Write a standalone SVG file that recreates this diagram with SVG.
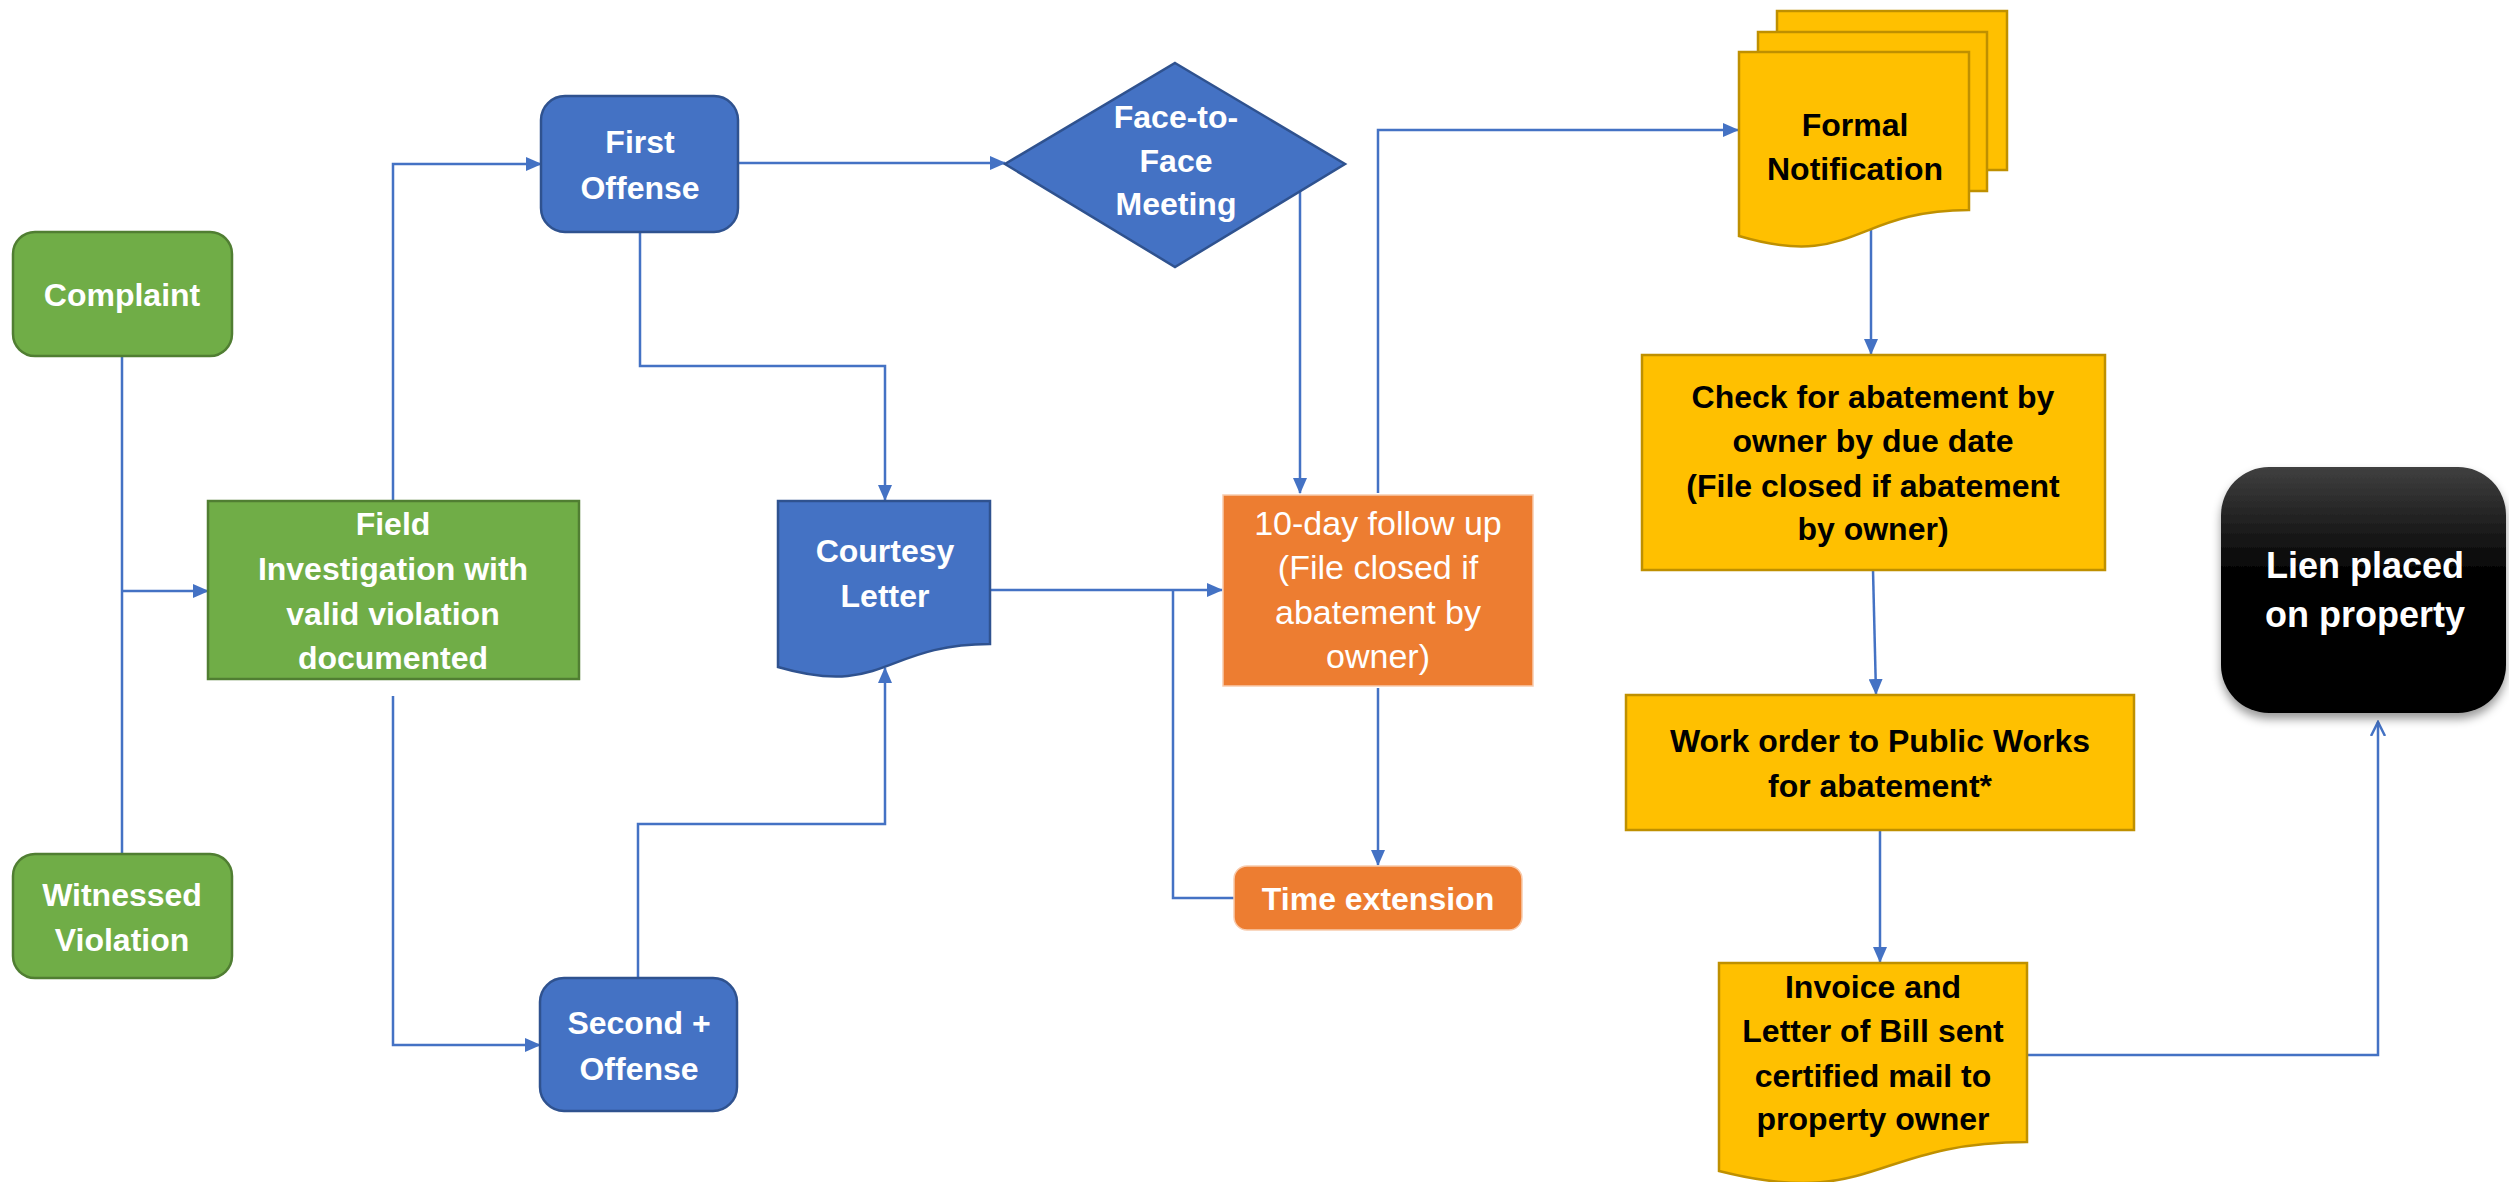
<svg xmlns="http://www.w3.org/2000/svg" width="2509" height="1182" viewBox="0 0 2509 1182">
<defs>
<style>
.t{font-family:"Liberation Sans",Arial,sans-serif;font-weight:bold;font-size:32px;text-anchor:middle;fill:#fff}
.tr{font-family:"Liberation Sans",Arial,sans-serif;font-weight:normal;font-size:34px;text-anchor:middle;fill:#fff}
.tk{fill:#000}
.green{fill:#70AD47;stroke:#507E32;stroke-width:2.5}
.blue{fill:#4472C4;stroke:#2F528F;stroke-width:2.5}
.orange{fill:#ED7D31;stroke:#F8CBAD;stroke-width:1.5}
.yellow{fill:#FFC000;stroke:#BF9000;stroke-width:2.5}
.c{fill:none;stroke:#4472C4;stroke-width:2.5}
</style>
<marker id="ah" markerUnits="userSpaceOnUse" markerWidth="16" markerHeight="14" refX="15" refY="7" orient="auto"><path d="M0,0 L16,7 L0,14 Z" fill="#4472C4"/></marker>
<marker id="oa" markerUnits="userSpaceOnUse" markerWidth="16" markerHeight="16" refX="14" refY="8" orient="auto"><path d="M0,1 L14,8 L0,15" fill="none" stroke="#4472C4" stroke-width="2.5"/></marker>
<linearGradient id="lg" x1="0" y1="0" x2="0" y2="1"><stop offset="0" stop-color="#404040"/><stop offset="0.45" stop-color="#000"/><stop offset="1" stop-color="#000"/></linearGradient>
<filter id="sh" x="-10%" y="-10%" width="120%" height="130%"><feDropShadow dx="0" dy="6" stdDeviation="5" flood-color="#000" flood-opacity="0.4"/></filter>
</defs>
<rect width="2509" height="1182" fill="#fff"/>
<g id="connectors">
<path class="c" d="M122,356 V854"/>
<path class="c" d="M122,591 H208" marker-end="url(#ah)"/>
<path class="c" d="M393,501 V164 H541" marker-end="url(#ah)"/>
<path class="c" d="M393,696 V1045 H540" marker-end="url(#ah)"/>
<path class="c" d="M739,163 H1005" marker-end="url(#ah)"/>
<path class="c" d="M640,232 V366 H885 V500" marker-end="url(#ah)"/>
<path class="c" d="M638,978 V824 H885 V668" marker-end="url(#ah)"/>
<path class="c" d="M990,590 H1222" marker-end="url(#ah)"/>
<path class="c" d="M1234,898 H1173 V590"/>
<path class="c" d="M1300,191 V493" marker-end="url(#ah)"/>
<path class="c" d="M1378,688 V865" marker-end="url(#ah)"/>
<path class="c" d="M1378,493 V130 H1738" marker-end="url(#ah)"/>
<path class="c" d="M1871,224 V354" marker-end="url(#ah)"/>
<path class="c" d="M1873,570 L1876,694" marker-end="url(#ah)"/>
<path class="c" d="M1880,830 V962" marker-end="url(#ah)"/>
<path class="c" d="M2027,1055 H2378 V722" marker-end="url(#oa)"/>
</g>
<g id="complaint">
<rect class="green" x="13" y="232" width="219" height="124" rx="22"/>
<text class="t" x="122" y="306">Complaint</text>
</g>
<g id="witnessed">
<rect class="green" x="13" y="854" width="219" height="124" rx="22"/>
<text class="t" x="122" y="906">Witnessed</text>
<text class="t" x="122" y="951">Violation</text>
</g>
<g id="field">
<rect class="green" x="208" y="501" width="371" height="178"/>
<text class="t" x="393" y="535">Field</text>
<text class="t" x="393" y="580">Investigation with</text>
<text class="t" x="393" y="625">valid violation</text>
<text class="t" x="393" y="669">documented</text>
</g>
<g id="first-offense">
<rect class="blue" x="541" y="96" width="197" height="136" rx="24"/>
<text class="t" x="640" y="153">First</text>
<text class="t" x="640" y="199">Offense</text>
</g>
<g id="second-offense">
<rect class="blue" x="540" y="978" width="197" height="133" rx="24"/>
<text class="t" x="639" y="1034">Second +</text>
<text class="t" x="639" y="1080">Offense</text>
</g>
<g id="face-meeting">
<path class="blue" d="M1175,63 L1345,164 L1175,267 L1005,164 Z"/>
<text class="t" x="1176" y="128">Face-to-</text>
<text class="t" x="1176" y="172">Face</text>
<text class="t" x="1176" y="215">Meeting</text>
</g>
<g id="courtesy-letter">
<path class="blue" d="M778,501 H990 V644 C884,644 884,698 778,667 Z"/>
<text class="t" x="885" y="562">Courtesy</text>
<text class="t" x="885" y="607">Letter</text>
</g>
<g id="ten-day">
<rect class="orange" x="1223" y="495" width="310" height="191"/>
<text class="tr" x="1378" y="535">10-day follow up</text>
<text class="tr" x="1378" y="579">(File closed if</text>
<text class="tr" x="1378" y="624">abatement by</text>
<text class="tr" x="1378" y="668">owner)</text>
</g>
<g id="time-extension">
<rect class="orange" x="1234" y="866" width="288" height="64" rx="13"/>
<text class="t" x="1378" y="910">Time extension</text>
</g>
<g id="formal-notification">
<rect class="yellow" x="1777" y="11" width="230" height="159"/>
<rect class="yellow" x="1758" y="32" width="229" height="159"/>
<path class="yellow" d="M1739,52 H1969 V210 C1854,210 1854,270 1739,236 Z"/>
<text class="t tk" x="1855" y="136">Formal</text>
<text class="t tk" x="1855" y="180">Notification</text>
</g>
<g id="check-abatement">
<rect class="yellow" x="1642" y="355" width="463" height="215"/>
<text class="t tk" x="1873" y="408">Check for abatement by</text>
<text class="t tk" x="1873" y="452">owner by due date</text>
<text class="t tk" x="1873" y="497">(File closed if abatement</text>
<text class="t tk" x="1873" y="540">by owner)</text>
</g>
<g id="work-order">
<rect class="yellow" x="1626" y="695" width="508" height="135"/>
<text class="t tk" x="1880" y="752">Work order to Public Works</text>
<text class="t tk" x="1880" y="797">for abatement*</text>
</g>
<g id="invoice">
<path class="yellow" d="M1719,963 H2027 V1142 C1873,1142 1873,1210 1719,1171 Z"/>
<text class="t tk" x="1873" y="998">Invoice and</text>
<text class="t tk" x="1873" y="1042">Letter of Bill sent</text>
<text class="t tk" x="1873" y="1087">certified mail to</text>
<text class="t tk" x="1873" y="1130">property owner</text>
</g>
<g id="lien">
<rect x="2221" y="467" width="285" height="246" rx="48" fill="url(#lg)" filter="url(#sh)"/>
<text class="t" x="2365" y="578" style="font-size:36px">Lien placed</text>
<text class="t" x="2365" y="627" style="font-size:36px">on property</text>
</g>
</svg>
